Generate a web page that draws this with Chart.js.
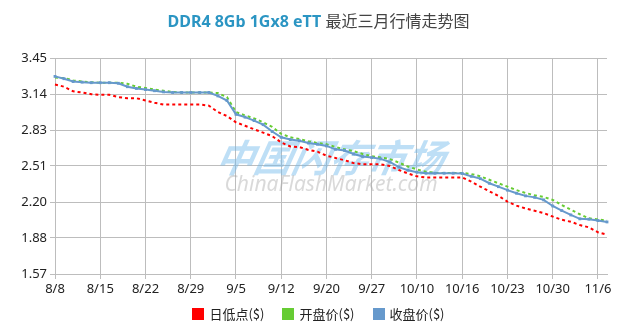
<!DOCTYPE html>
<html>
<head>
<meta charset="utf-8">
<script src="https://cdn.jsdelivr.net/npm/chart.js@4/dist/chart.umd.min.js"></script>
<style>
  html, body { margin: 0; padding: 0; background: #fff; }
  #wrap { position: relative; width: 637px; height: 334px; }
  #title {
    position: absolute; left: 0; top: 9px; width: 637px; text-align: center;
    font-family: "Noto Sans", "Noto Sans CJK SC", sans-serif; font-size: 16px; line-height: 22px;
  }
  #title .en { color: #2b95c3; font-weight: bold; }
  #title .zh { color: #444; font-family: "Noto Sans CJK SC", sans-serif; }
  canvas { position: absolute; left: 0; top: 0; }
  #legend {
    position: absolute; left: 0; top: 305px; width: 637px;
    display: flex; justify-content: center; align-items: center;
    font-family: "Noto Sans CJK SC", sans-serif; font-size: 13px; color: #222; line-height: 18px;
  }
  #legend .item { display: flex; align-items: center; margin: 0 9px; }
  #legend .box { width: 12px; height: 12px; margin-right: 5px; }
</style>
</head>
<body>
<div id="wrap">
  <canvas id="c" width="637" height="334"></canvas>
  <div id="title"><span class="en">DDR4 8Gb 1Gx8 eTT</span> <span class="zh">最近三月行情走势图</span></div>
  <div id="legend"></div>
</div>
<script>
// Trading days, 8/8 through 11/7
const dates = ['8/8','8/9','8/12','8/13','8/14','8/15','8/16','8/19','8/20','8/21',
  '8/22','8/23','8/26','8/27','8/28','8/29','8/30','9/2','9/3','9/4',
  '9/5','9/6','9/9','9/10','9/11','9/12','9/13','9/14','9/18','9/19',
  '9/20','9/23','9/24','9/25','9/26','9/27','9/29','9/30','10/8','10/9',
  '10/10','10/11','10/12','10/14','10/15','10/16','10/17','10/18','10/21','10/22',
  '10/23','10/24','10/25','10/28','10/29','10/30','10/31','11/1','11/4','11/5',
  '11/6','11/7'];

// Daily low ($)
const lowPrice = [3.22,3.20,3.16,3.15,3.135,3.13,3.13,3.11,3.10,3.10,
  3.08,3.06,3.045,3.045,3.045,3.045,3.045,3.035,2.98,2.945,
  2.89,2.86,2.83,2.80,2.77,2.715,2.68,2.675,2.65,2.635,
  2.60,2.58,2.56,2.535,2.525,2.525,2.525,2.51,2.475,2.445,
  2.42,2.41,2.41,2.41,2.41,2.41,2.374,2.33,2.29,2.25,
  2.20,2.165,2.14,2.12,2.10,2.07,2.042,2.025,1.996,1.976,
  1.933,1.912];

// Opening price ($)
const openPrice = [3.28,3.275,3.255,3.245,3.24,3.235,3.235,3.235,3.225,3.20,
  3.19,3.175,3.165,3.155,3.15,3.15,3.15,3.15,3.145,3.11,
  2.98,2.95,2.925,2.89,2.85,2.79,2.76,2.745,2.725,2.71,
  2.70,2.675,2.655,2.64,2.615,2.595,2.585,2.57,2.54,2.505,
  2.48,2.46,2.45,2.45,2.45,2.45,2.44,2.42,2.39,2.36,
  2.33,2.30,2.275,2.255,2.24,2.215,2.17,2.13,2.09,2.055,
  2.045,2.035];

// Closing price ($)
const closePrice = [3.29,3.27,3.245,3.24,3.235,3.235,3.235,3.23,3.20,3.185,
  3.175,3.165,3.155,3.15,3.15,3.15,3.15,3.15,3.12,3.08,
  2.96,2.935,2.905,2.87,2.81,2.76,2.74,2.73,2.71,2.70,
  2.685,2.655,2.645,2.615,2.592,2.583,2.572,2.545,2.50,2.473,
  2.456,2.447,2.447,2.447,2.447,2.445,2.42,2.40,2.36,2.33,
  2.30,2.273,2.25,2.237,2.215,2.162,2.122,2.084,2.05,2.047,
  2.035,2.023];

const yTickLabels = ['1.57','1.88','2.20','2.51','2.83','3.14','3.45'];
const yMin = 1.57, yMax = 3.45;
const seriesNames = ['日低点($)','开盘价($)','收盘价($)'];
const seriesColors = ['#ff0000','#66cc33','#6699cc'];
const labelEvery = 5;

const FONT = '"Noto Sans", "Noto Sans CJK SC", sans-serif';
const GRID = '#bdbdbd';

// Legend under the axis
const legendEl = document.getElementById('legend');
seriesNames.forEach((name, i) => {
  const item = document.createElement('div');
  item.className = 'item';
  const box = document.createElement('span');
  box.className = 'box';
  box.style.background = seriesColors[i];
  const txt = document.createElement('span');
  txt.textContent = name;
  item.appendChild(box);
  item.appendChild(txt);
  legendEl.appendChild(item);
});

// Faint site watermark behind the lines
const watermark = {
  id: 'watermark',
  beforeDatasetsDraw(chart) {
    const ctx = chart.ctx;
    ctx.save();
    ctx.textAlign = 'center';
    ctx.textBaseline = 'middle';
    ctx.fillStyle = 'rgba(110,185,235,0.45)';
    ctx.font = 'italic bold 38px "Noto Sans CJK SC", sans-serif';
    ctx.setTransform(1, 0, -0.2, 1, 0, 0);
    ctx.fillText('中国闪存市场', 331 + 0.2 * 158, 158);
    ctx.setTransform(1, 0, 0, 1, 0, 0);
    ctx.fillStyle = 'rgba(165,165,165,0.42)';
    ctx.font = 'italic 21px "Noto Sans", sans-serif';
    ctx.fillText('ChinaFlashMarket.com', 331, 185);
    ctx.restore();
  }
};

new Chart(document.getElementById('c'), {
  type: 'line',
  data: {
    labels: dates,
    datasets: [
      { label: seriesNames[0], data: lowPrice, borderColor: seriesColors[0], backgroundColor: seriesColors[0],
        borderWidth: 2, borderDash: [3, 3], pointRadius: 0, order: 2 },
      { label: seriesNames[1], data: openPrice, borderColor: seriesColors[1], backgroundColor: seriesColors[1],
        borderWidth: 2, borderDash: [3, 3], pointRadius: 0, order: 1 },
      { label: seriesNames[2], data: closePrice, borderColor: seriesColors[2], backgroundColor: seriesColors[2],
        borderWidth: 2, pointStyle: 'rect', pointRadius: 2, pointBorderWidth: 0, order: 0 }
    ]
  },
  options: {
    responsive: false,
    animation: false,
    events: [],
    layout: { padding: { top: 58, right: 30, left: 0, bottom: 34 } },
    plugins: {
      title: { display: false },
      tooltip: { enabled: false },
      legend: { display: false }
    },
    scales: {
      x: {
        type: 'category',
        offset: false,
        grid: { color: GRID, tickLength: 5 },
        border: { color: GRID },
        ticks: {
          autoSkip: false, maxRotation: 0, padding: 2,
          color: '#222', font: { family: FONT, size: 13 },
          callback: (v, i) => (i % labelEvery === 0 ? dates[i] : null)
        },
        afterFit: s => { s.height = 26; }
      },
      y: {
        min: yMin, max: yMax,
        grid: { color: GRID, tickLength: 5 },
        border: { color: GRID },
        ticks: {
          count: yTickLabels.length, padding: 3,
          color: '#222', font: { family: FONT, size: 13 },
          callback: (v, i) => yTickLabels[i]
        },
        afterFit: s => { s.width = 55; }
      }
    }
  },
  plugins: [watermark]
});
</script>
</body>
</html>
